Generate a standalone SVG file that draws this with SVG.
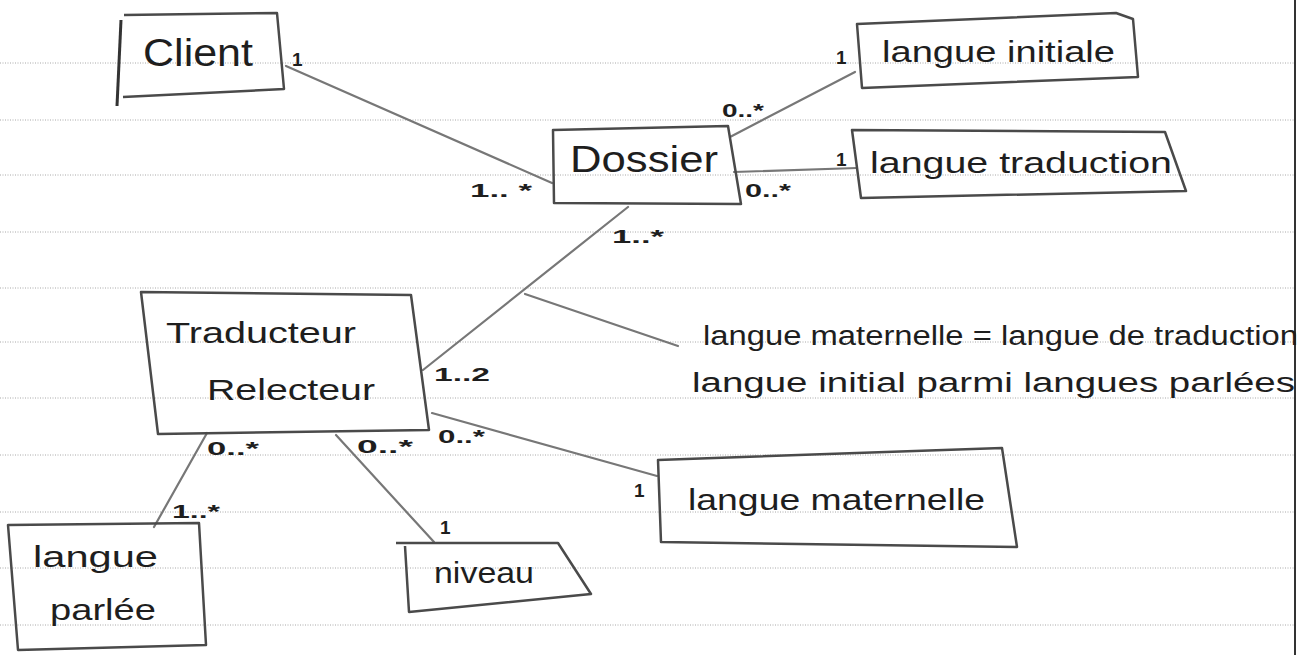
<svg xmlns="http://www.w3.org/2000/svg" width="1303" height="655" viewBox="0 0 1303 655">
  <style>
    .rule { stroke: #a8a8a8; stroke-width: 1; stroke-dasharray: 1 1.5; }
    .box { fill: none; stroke: #4a4a4a; stroke-width: 2.5; stroke-linejoin: round; }
    .edge { fill: none; stroke: #777; stroke-width: 2.2; stroke-linecap: round; }
    .lbl { font-family: "Liberation Sans", Arial, sans-serif; fill: #1e1e1e; }
    .name { font-size: 30px; }
    .mult { font-size: 19px; font-weight: bold; }
    .note { font-size: 27px; }
  </style>

  <rect width="1303" height="655" fill="#ffffff"/>

  <!-- ruled notebook paper -->
  <g id="paper">
    <line class="rule" x1="0" y1="63" x2="1295" y2="63"/>
    <line class="rule" x1="0" y1="120" x2="1295" y2="120"/>
    <line class="rule" x1="0" y1="175" x2="1295" y2="175"/>
    <line class="rule" x1="0" y1="232" x2="1295" y2="232"/>
    <line class="rule" x1="0" y1="288" x2="1295" y2="288"/>
    <line class="rule" x1="0" y1="342" x2="1295" y2="342"/>
    <line class="rule" x1="0" y1="398" x2="1295" y2="398"/>
    <line class="rule" x1="0" y1="455" x2="1295" y2="455"/>
    <line class="rule" x1="0" y1="512" x2="1295" y2="512"/>
    <line class="rule" x1="0" y1="568" x2="1295" y2="568"/>
    <line class="rule" x1="0" y1="625" x2="1295" y2="625"/>
    <line x1="1295" y1="0" x2="1295" y2="655" stroke="#333" stroke-width="2"/>
  </g>

  <!-- associations -->
  <g id="connectors">
    <line class="edge" x1="286" y1="66" x2="552" y2="183"/>
    <line class="edge" x1="730" y1="137" x2="855" y2="72"/>
    <line class="edge" x1="734" y1="172" x2="857" y2="168"/>
    <line class="edge" x1="628" y1="207" x2="423" y2="370"/>
    <line class="edge" x1="525" y1="294" x2="678" y2="346"/>
    <line class="edge" x1="432" y1="413" x2="657" y2="476"/>
    <line class="edge" x1="207" y1="433" x2="154" y2="527"/>
    <line class="edge" x1="336" y1="435" x2="434" y2="542"/>
  </g>

  <g id="client">
    <polyline class="box" points="124,15 277,13 284,89 123,97"/>
    <line x1="121" y1="20" x2="117" y2="106" stroke="#333" stroke-width="3"/>
    <text class="lbl" x="143" y="66" font-size="38" textLength="110" lengthAdjust="spacingAndGlyphs">Client</text>
  </g>

  <g id="dossier">
    <polygon class="box" points="553,130 728,126 741,204 554,203"/>
    <text class="lbl" x="570" y="172" font-size="36" textLength="148" lengthAdjust="spacingAndGlyphs">Dossier</text>
  </g>

  <g id="langue-initiale">
    <polygon class="box" points="857,24 1116,13 1133,19 1138,77 862,88"/>
    <text class="lbl name" x="882" y="62" textLength="233" lengthAdjust="spacingAndGlyphs">langue initiale</text>
  </g>

  <g id="langue-traduction">
    <polygon class="box" points="852,130 1165,132 1186,191 861,198"/>
    <text class="lbl name" x="870" y="173" textLength="302" lengthAdjust="spacingAndGlyphs">langue traduction</text>
  </g>

  <g id="traducteur-relecteur">
    <polygon class="box" points="141,292 411,295 429,430 158,434"/>
    <text class="lbl name" x="166" y="343" textLength="190" lengthAdjust="spacingAndGlyphs">Traducteur</text>
    <text class="lbl name" x="207" y="400" textLength="168" lengthAdjust="spacingAndGlyphs">Relecteur</text>
  </g>

  <g id="langue-maternelle">
    <polygon class="box" points="658,460 1002,448 1017,547 661,542"/>
    <text class="lbl name" x="688" y="510" textLength="297" lengthAdjust="spacingAndGlyphs">langue maternelle</text>
  </g>

  <g id="langue-parlee">
    <polygon class="box" points="8,525 199,523 206,645 18,650"/>
    <text class="lbl name" x="33" y="567" textLength="125" lengthAdjust="spacingAndGlyphs">langue</text>
    <text class="lbl name" x="50" y="620" textLength="106" lengthAdjust="spacingAndGlyphs">parlée</text>
  </g>

  <g id="niveau">
    <polyline class="box" points="396,543 558,543 591,594 409,612 405,546"/>
    <text class="lbl name" x="434" y="583" textLength="100" lengthAdjust="spacingAndGlyphs">niveau</text>
  </g>

  <!-- constraint note -->
  <g id="contrainte">
    <text class="lbl note" x="703" y="345" textLength="595" lengthAdjust="spacingAndGlyphs">langue maternelle = langue de traduction</text>
    <text class="lbl note" x="692" y="392" textLength="603" lengthAdjust="spacingAndGlyphs">langue initial parmi langues parlées</text>
  </g>

  <!-- multiplicities -->
  <g id="multiplicites">
    <text class="lbl mult" x="292" y="66">1</text>
    <text class="lbl mult" x="470" y="197" textLength="62" lengthAdjust="spacingAndGlyphs">1.. *</text>
    <text class="lbl mult" x="722" y="117" textLength="42" lengthAdjust="spacingAndGlyphs">0..*</text>
    <text class="lbl mult" x="836" y="64">1</text>
    <text class="lbl mult" x="836" y="166">1</text>
    <text class="lbl mult" x="745" y="197" textLength="46" lengthAdjust="spacingAndGlyphs">0..*</text>
    <text class="lbl mult" x="612" y="243" textLength="52" lengthAdjust="spacingAndGlyphs">1..*</text>
    <text class="lbl mult" x="434" y="381" textLength="56" lengthAdjust="spacingAndGlyphs">1..2</text>
    <text class="lbl mult" x="438" y="443" textLength="47" lengthAdjust="spacingAndGlyphs">0..*</text>
    <text class="lbl mult" x="634" y="497">1</text>
    <text class="lbl mult" x="207" y="455" textLength="52" lengthAdjust="spacingAndGlyphs">0..*</text>
    <text class="lbl mult" x="172" y="518" textLength="48" lengthAdjust="spacingAndGlyphs">1..*</text>
    <text class="lbl mult" x="357" y="453" textLength="56" lengthAdjust="spacingAndGlyphs">0..*</text>
    <text class="lbl mult" x="440" y="534">1</text>
  </g>
</svg>
